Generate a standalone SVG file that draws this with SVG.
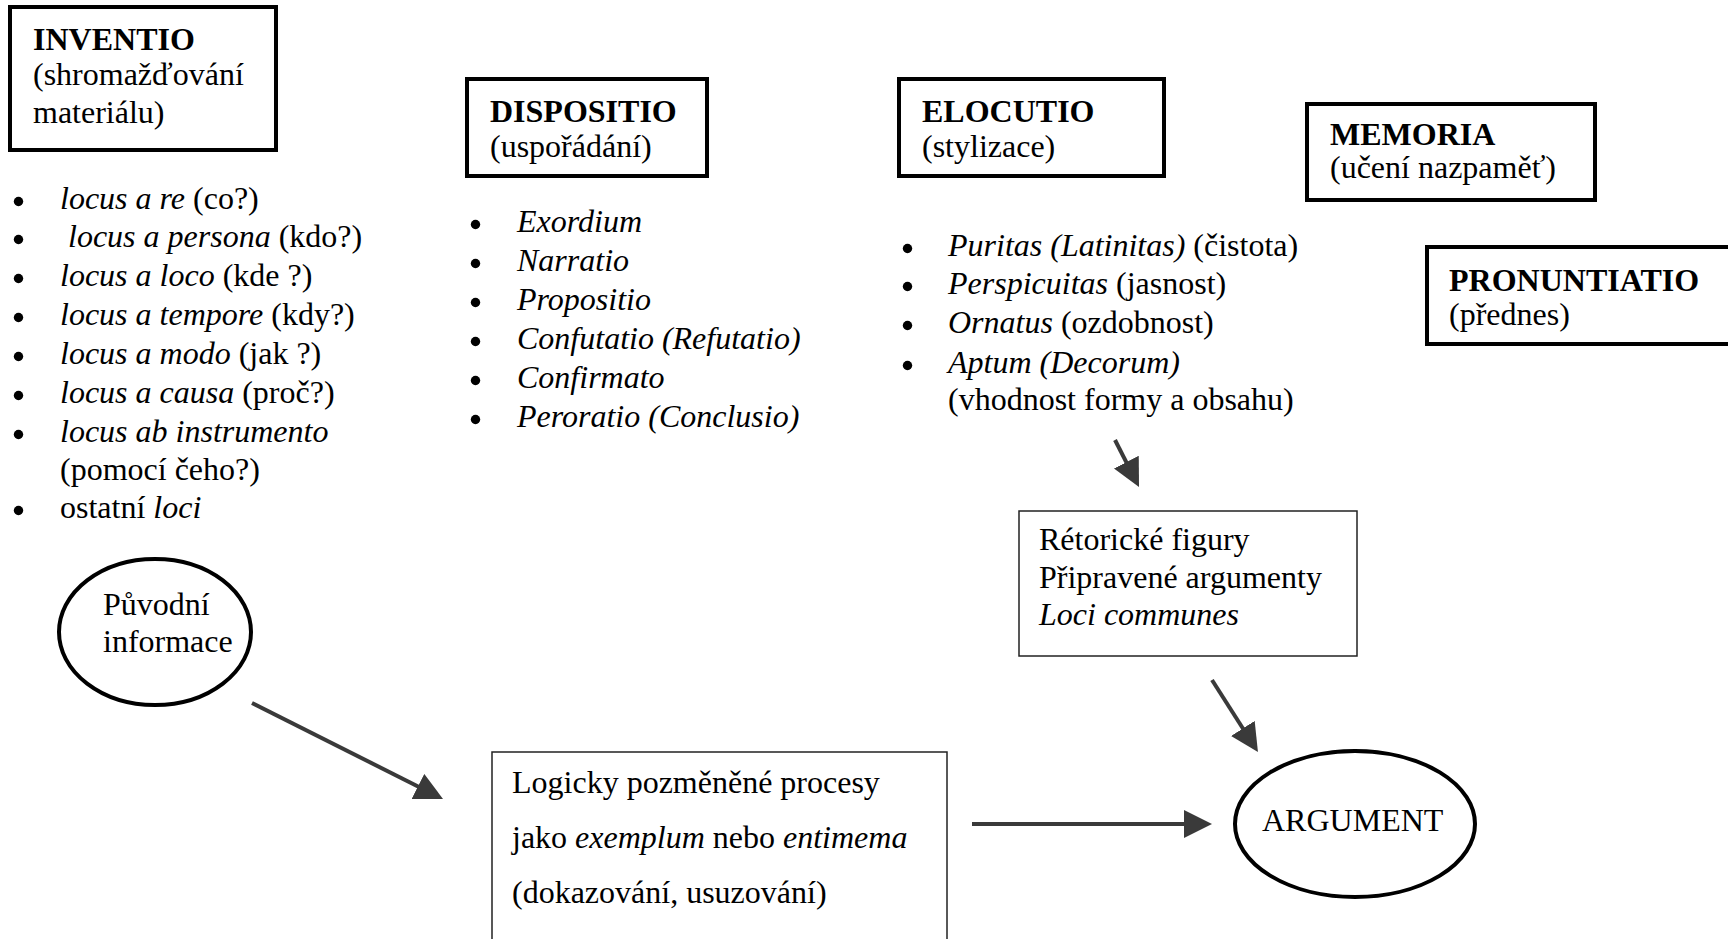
<svg xmlns="http://www.w3.org/2000/svg" width="1728" height="939" viewBox="0 0 1728 939">
<style>
text{font-family:"Liberation Serif","Times New Roman",serif;font-size:32px;fill:#000}
.b{font-weight:bold}
.i{font-style:italic}
.box{fill:#fff;stroke:#000;stroke-width:4}
.thin{fill:#fff;stroke:#222;stroke-width:1.5}
.ell{fill:#fff;stroke:#000;stroke-width:4}
.bul{fill:#000}
.conn{stroke:#3a3a3a;stroke-width:4;fill:none;marker-end:url(#ah)}
</style>
<defs>
<marker id="ah" viewBox="0 0 10 10" refX="3" refY="5" markerWidth="7" markerHeight="7" orient="auto">
<path d="M0,0 L10,5 L0,10 z" fill="#3a3a3a"/>
</marker>
</defs>
<rect width="1728" height="939" fill="#fff"/>

<g id="inventio">
<rect class="box" x="10" y="7" width="266" height="143"/>
<text class="b" x="33" y="50">INVENTIO</text>
<text x="33" y="85">(shromažďování</text>
<text x="33" y="123">materiálu)</text>
</g>
<g id="inventio-list">
<circle class="bul" cx="18.5" cy="201.5" r="4.7"/>
<circle class="bul" cx="18.5" cy="239.5" r="4.7"/>
<circle class="bul" cx="18.5" cy="278.5" r="4.7"/>
<circle class="bul" cx="18.5" cy="317.5" r="4.7"/>
<circle class="bul" cx="18.5" cy="356.5" r="4.7"/>
<circle class="bul" cx="18.5" cy="395.5" r="4.7"/>
<circle class="bul" cx="18.5" cy="434.5" r="4.7"/>
<circle class="bul" cx="18.5" cy="510.5" r="4.7"/>
<text x="60" y="209"><tspan class="i">locus a re</tspan> (co?)</text>
<text x="68" y="247"><tspan class="i">locus a persona</tspan> (kdo?)</text>
<text x="60" y="286"><tspan class="i">locus a loco</tspan> (kde ?)</text>
<text x="60" y="325"><tspan class="i">locus a tempore</tspan> (kdy?)</text>
<text x="60" y="364"><tspan class="i">locus a modo</tspan> (jak ?)</text>
<text x="60" y="403"><tspan class="i">locus a causa</tspan> (proč?)</text>
<text x="60" y="442" class="i">locus ab instrumento</text>
<text x="60" y="480">(pomocí čeho?)</text>
<text x="60" y="518">ostatní <tspan class="i">loci</tspan></text>
</g>

<g id="dispositio">
<rect class="box" x="467" y="79" width="240" height="97"/>
<text class="b" x="490" y="122">DISPOSITIO</text>
<text x="490" y="157">(uspořádání)</text>
</g>
<g id="dispositio-list">
<circle class="bul" cx="475.5" cy="224.5" r="4.7"/>
<circle class="bul" cx="475.5" cy="263.5" r="4.7"/>
<circle class="bul" cx="475.5" cy="302.5" r="4.7"/>
<circle class="bul" cx="475.5" cy="341.5" r="4.7"/>
<circle class="bul" cx="475.5" cy="380.5" r="4.7"/>
<circle class="bul" cx="475.5" cy="419.5" r="4.7"/>
<text class="i" x="517" y="232">Exordium</text>
<text class="i" x="517" y="271">Narratio</text>
<text class="i" x="517" y="310">Propositio</text>
<text class="i" x="517" y="349">Confutatio (Refutatio)</text>
<text class="i" x="517" y="388">Confirmato</text>
<text class="i" x="517" y="427">Peroratio (Conclusio)</text>
</g>

<g id="elocutio">
<rect class="box" x="899" y="79" width="265" height="97"/>
<text class="b" x="922" y="122">ELOCUTIO</text>
<text x="922" y="157">(stylizace)</text>
</g>
<g id="elocutio-list">
<circle class="bul" cx="907.5" cy="248.5" r="4.7"/>
<circle class="bul" cx="907.5" cy="286.5" r="4.7"/>
<circle class="bul" cx="907.5" cy="325.5" r="4.7"/>
<circle class="bul" cx="907.5" cy="365.5" r="4.7"/>
<text x="948" y="256"><tspan class="i">Puritas (Latinitas)</tspan> (čistota)</text>
<text x="948" y="294"><tspan class="i">Perspicuitas</tspan> (jasnost)</text>
<text x="948" y="333"><tspan class="i">Ornatus</tspan> (ozdobnost)</text>
<text class="i" x="948" y="373">Aptum (Decorum)</text>
<text x="948" y="410">(vhodnost formy a obsahu)</text>
</g>

<g id="memoria">
<rect class="box" x="1307" y="104" width="288" height="96"/>
<text class="b" x="1330" y="145">MEMORIA</text>
<text x="1330" y="178">(učení nazpaměť)</text>
</g>

<g id="pronuntiatio">
<rect class="box" x="1427" y="247" width="330" height="97"/>
<text class="b" x="1449" y="291">PRONUNTIATIO</text>
<text x="1449" y="325">(přednes)</text>
</g>

<g id="puvodni">
<ellipse class="ell" cx="155" cy="632" rx="96" ry="73"/>
<text x="103" y="615">Původní</text>
<text x="103" y="652">informace</text>
</g>

<g id="logicky">
<rect class="thin" x="492" y="752" width="455" height="210"/>
<text x="512" y="793">Logicky pozměněné procesy</text>
<text x="512" y="848">jako <tspan class="i">exemplum</tspan> nebo <tspan class="i">entimema</tspan></text>
<text x="512" y="903">(dokazování, usuzování)</text>
</g>

<g id="retoricke">
<rect class="thin" x="1019" y="511" width="338" height="145"/>
<text x="1039" y="550">Rétorické figury</text>
<text x="1039" y="588">Připravené argumenty</text>
<text class="i" x="1039" y="625">Loci communes</text>
</g>

<g id="argument">
<ellipse class="ell" cx="1355" cy="824" rx="120" ry="73"/>
<text x="1262" y="831">ARGUMENT</text>
</g>

<g id="connectors">
<line class="conn" x1="252" y1="703" x2="425.5" y2="790.2"/>
<line class="conn" x1="972" y1="824" x2="1192.4" y2="824"/>
<line class="conn" x1="1115" y1="440" x2="1130.1" y2="469.6"/>
<line class="conn" x1="1212" y1="680" x2="1247.4" y2="735.5"/>
</g>
</svg>
